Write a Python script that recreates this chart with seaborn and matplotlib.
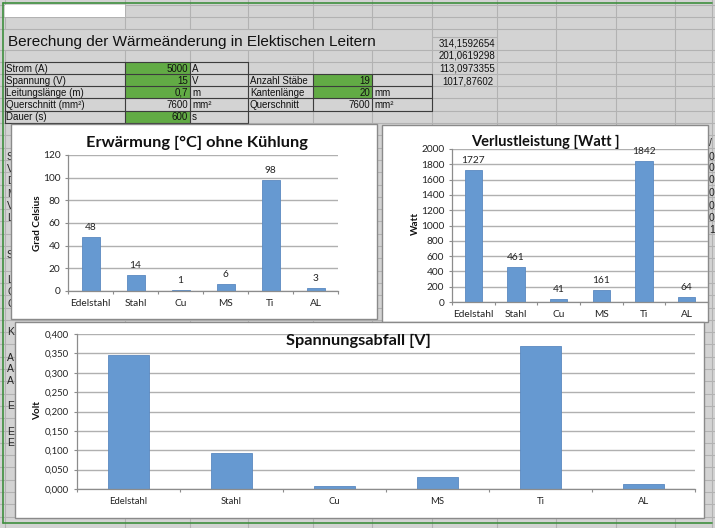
import matplotlib
matplotlib.use("Agg")
import matplotlib.pyplot as plt
import matplotlib.patches as mpatches
from matplotlib.ticker import FuncFormatter, FixedLocator
import seaborn as sns

sns.set_theme(style="white")
plt.rcParams['font.family'] = ['Lato', 'DejaVu Sans']

# ---------------- data ----------------
materials = ["Edelstahl", "Stahl", "Cu", "MS", "Ti", "AL"]
temp_rise = [48, 14, 1, 6, 98, 3]                      # Erwärmung [°C]
power_loss = [1727, 461, 41, 161, 1842, 64]            # Verlustleistung [Watt]
voltage_drop = [0.345, 0.092, 0.008, 0.032, 0.368, 0.013]  # Spannungsabfall [V]

sheet_title = "Berechung der Wärmeänderung in Elektischen Leitern"
input_labels = ["Strom (A)", "Spannung (V)", "Leitungslänge (m)", "Querschnitt (mm²)", "Dauer (s)"]
input_values = ["5000", "15", "0,7", "7600", "600"]
input_units = ["A", "V", "m", "mm²", "s"]
input_green = [True, True, True, False, True]
input2_labels = ["Anzahl Stäbe", "Kantenlänge", "Querschnitt"]
input2_values = ["19", "20", "7600"]
input2_units = ["", "mm", "mm²"]
input2_green = [True, True, False]
side_numbers = ["314,1592654", "201,0619298", "113,0973355", "1017,87602"]
hidden_left = ["S", "V", "D", "M", "V", "L", "S", "L", "Q", "Q", "K", "A", "A", "A", "E", "E", "E"]
hidden_left_y = [157, 169, 181, 194, 206, 218, 255, 280, 292, 304, 332, 358, 369, 381, 406, 432, 443]
hidden_right = ["/", "0", "0", "0", "0", "0", "0", "1"]
hidden_right_y = [143, 157, 168, 180, 193, 206, 218, 230]

W, H = 715, 528
GRAY = "#d3d3d3"
GRID = "#b2b2b2"
GREEN = "#62ab45"
BAR = "#6699d1"
BAR_EDGE = "#5a89c0"
CGRID = "#b0b0b0"
AXC = "#8c8c8c"
SHEETFONT = ["Liberation Sans", "DejaVu Sans"]
TICK = 7.3
LAB = 7.3

fig = plt.figure(figsize=(W / 100, H / 100), dpi=100)
fig.patch.set_facecolor(GRAY)


def frac(x0, y0, x1, y1):
    return [x0 / W, 1 - y1 / H, (x1 - x0) / W, (y1 - y0) / H]


def ftxt(x, y, s, **kw):
    fig.text(x / W, 1 - y / H, s, **kw)


bg = fig.add_axes([0, 0, 1, 1])
bg.set_xlim(0, W)
bg.set_ylim(H, 0)
bg.axis("off")

# spreadsheet grid
cols = [5, 125, 190, 248, 313, 372, 432, 497, 556, 616, 675, 712]
rows = [5, 17, 29, 50, 62, 74, 86, 98, 110.5, 123]
y = 123
while y < H:
    y += 12.3
    rows.append(y)
for x in cols:
    if x < 432:
        bg.plot([x, x], [0, 29], color=GRID, lw=0.8, zorder=1)
        bg.plot([x, x], [50, H], color=GRID, lw=0.8, zorder=1)
    else:
        bg.plot([x, x], [0, H], color=GRID, lw=0.8, zorder=1)
for yy in rows:
    bg.plot([0, W], [yy, yy], color=GRID, lw=0.8, zorder=1)
bg.plot([432, 497], [37, 37], color=GRID, lw=0.8, zorder=1)

# white top-left cell
bg.add_patch(mpatches.Rectangle((5, 5), 120, 12, facecolor="white", edgecolor="none", zorder=2))

# title
ftxt(8, 42, sheet_title, fontsize=11, family=SHEETFONT, va="center", ha="left", color="#111111")
for i, s in enumerate(side_numbers):
    ftxt(495 if i < 3 else 493, [43, 56, 69, 81][i], s, fontsize=7, family=SHEETFONT,
         va="center", ha="right", color="#111111")

# input table 1
row_tops = [62, 74, 86, 98, 110.5]
for i, (lab, val, unit, g) in enumerate(zip(input_labels, input_values, input_units, input_green)):
    top = row_tops[i]
    h = 12.2
    if g:
        bg.add_patch(mpatches.Rectangle((125, top), 65, h, facecolor=GREEN, edgecolor="none", zorder=2))
    cy = top + h / 2 + 0.5
    ftxt(6, cy, lab, fontsize=7, family=SHEETFONT, va="center", ha="left", color="#111111")
    ftxt(188, cy, val, fontsize=7, family=SHEETFONT, va="center", ha="right", color="#111111")
    ftxt(192, cy, unit, fontsize=7, family=SHEETFONT, va="center", ha="left", color="#111111")
for yy in row_tops + [122.7]:
    bg.plot([5, 248], [yy, yy], color="#3c3c3c", lw=0.8, zorder=3)
for x in [5, 125, 190, 248]:
    bg.plot([x, x], [62, 122.7], color="#3c3c3c", lw=0.8, zorder=3)

# input table 2
row2_tops = [74, 86, 98]
for i, (lab, val, unit, g) in enumerate(zip(input2_labels, input2_values, input2_units, input2_green)):
    top = row2_tops[i]
    h = 12.2
    if g:
        bg.add_patch(mpatches.Rectangle((313, top), 59, h, facecolor=GREEN, edgecolor="none", zorder=2))
    cy = top + h / 2 + 0.5
    ftxt(250, cy, lab, fontsize=7, family=SHEETFONT, va="center", ha="left", color="#111111")
    ftxt(370, cy, val, fontsize=7, family=SHEETFONT, va="center", ha="right", color="#111111")
    ftxt(374, cy, unit, fontsize=7, family=SHEETFONT, va="center", ha="left", color="#111111")
for yy in row2_tops + [110.5]:
    bg.plot([248, 432], [yy, yy], color="#3c3c3c", lw=0.8, zorder=3)
for x in [313, 372, 432]:
    bg.plot([x, x], [74, 110.5], color="#3c3c3c", lw=0.8, zorder=3)

# hidden cell text peeking out behind charts
for s, yy in zip(hidden_left, hidden_left_y):
    bg.text(7, yy, s, fontsize=7.5, family=SHEETFONT, va="center", ha="left", color="#222222", zorder=3)
for s, yy in zip(hidden_right, hidden_right_y):
    bg.text(709, yy, s, fontsize=7.5, family=SHEETFONT, va="center", ha="left", color="#222222", zorder=3)

# green frame
bg.plot([3, 3], [3, 523], color="#3f8f3f", lw=1.2, zorder=6)
bg.plot([3, 712], [3, 3], color="#3f8f3f", lw=1.2, zorder=6)
bg.plot([3, 712], [523, 523], color="#3f8f3f", lw=1.2, zorder=6)

# chart panels
panels = [(11, 124, 377, 319), (382, 125, 708, 322), (15, 322, 704, 518)]
for (x0, y0, x1, y1) in panels:
    bg.add_patch(mpatches.Rectangle((x0, y0), x1 - x0, y1 - y0, facecolor="white",
                                    edgecolor="#8a8a8a", lw=1.0, zorder=5))


def style_chart(ax, ymax, step, fmt=None, tsize=TICK):
    ax.patch.set_alpha(0)
    ax.set_ylim(0, ymax)
    ax.set_xlim(-0.5, len(materials) - 0.5)
    ax.yaxis.set_major_locator(FixedLocator([i * step for i in range(int(round(ymax / step)) + 1)]))
    if fmt:
        ax.yaxis.set_major_formatter(FuncFormatter(fmt))
    ax.yaxis.grid(True, color=CGRID, lw=1.0)
    ax.xaxis.grid(False)
    ax.set_axisbelow(True)
    for side in ["top", "right"]:
        ax.spines[side].set_visible(False)
    for side in ["left", "bottom"]:
        ax.spines[side].set_color(AXC)
        ax.spines[side].set_linewidth(0.9)
    ax.tick_params(axis="y", which="major", length=2.5, width=0.8, color=AXC, pad=3,
                   labelsize=tsize, labelcolor="#222222", left=True)
    ax.tick_params(axis="x", which="major", length=0, pad=5.5, labelsize=tsize, labelcolor="#222222")
    ax.set_xticks([i - 0.5 for i in range(len(materials) + 1)], minor=True)
    ax.tick_params(axis="x", which="minor", length=2.5, width=0.8, color=AXC, bottom=True)
    ax.set_xlabel("")
    ax.set_ylabel("")


# Chart 1
ax1 = fig.add_axes(frac(68, 155, 338, 291))
sns.barplot(x=materials, y=temp_rise, ax=ax1, color=BAR, width=0.4, saturation=1,
            edgecolor=BAR_EDGE, linewidth=0.6)
style_chart(ax1, 120, 20)
ax1.bar_label(ax1.containers[0], labels=[str(v) for v in temp_rise], padding=3.5,
              fontsize=LAB, color="#222222")
ftxt(197, 143, "Erwärmung [°C] ohne Kühlung", fontsize=11.8, fontweight="bold",
     ha="center", va="center", color="#111111")
ftxt(37, 223, "Grad Celsius", fontsize=7.2, fontweight="bold", rotation=90,
     ha="center", va="center", color="#111111")

# Chart 2
ax2 = fig.add_axes(frac(452, 149, 708, 302))
sns.barplot(x=materials, y=power_loss, ax=ax2, color=BAR, width=0.4, saturation=1,
            edgecolor=BAR_EDGE, linewidth=0.6)
style_chart(ax2, 2000, 200)
ax2.bar_label(ax2.containers[0], labels=[str(v) for v in power_loss], padding=3.5,
              fontsize=LAB, color="#222222")
ftxt(545, 142, "Verlustleistung [Watt ]", fontsize=10.5, fontweight="bold",
     ha="center", va="center", color="#111111")
ftxt(415, 223, "Watt", fontsize=7.2, fontweight="bold", rotation=90,
     ha="center", va="center", color="#111111")

# Chart 3
ax3 = fig.add_axes(frac(77, 334, 695, 489))
sns.barplot(x=materials, y=voltage_drop, ax=ax3, color=BAR, width=0.4, saturation=1,
            edgecolor=BAR_EDGE, linewidth=0.6)
style_chart(ax3, 0.4, 0.05, fmt=lambda v, p: f"{v:.3f}".replace(".", ","), tsize=6.8)
ftxt(358, 341, "Spannungsabfall [V]", fontsize=11.8, fontweight="bold",
     ha="center", va="center", color="#111111")
ftxt(38, 410, "Volt", fontsize=7.2, fontweight="bold", rotation=90,
     ha="center", va="center", color="#111111")

fig.savefig("out.png", dpi=100, facecolor=fig.get_facecolor())
